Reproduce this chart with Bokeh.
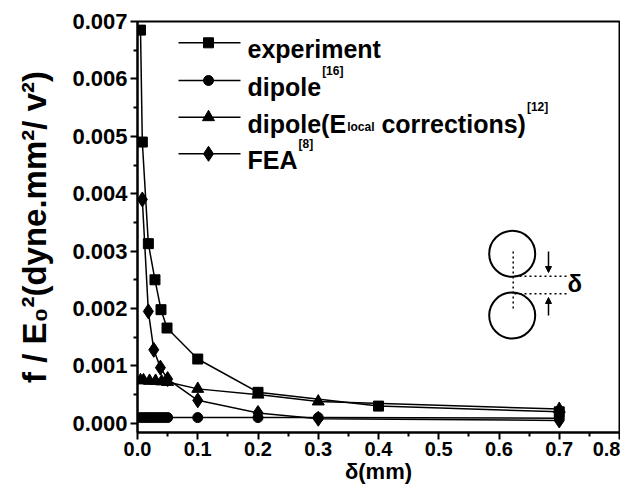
from bokeh.plotting import figure
from bokeh.embed import file_html
from bokeh.resources import INLINE
from bokeh.models import Range1d, PrintfTickFormatter, FixedTicker, Label, Arrow, NormalHead

# ---- data ----
x_exp = [0.005, 0.008, 0.018, 0.029, 0.039, 0.049, 0.1, 0.2, 0.4, 0.7]
y_exp = [0.00685, 0.0049, 0.00313, 0.0025, 0.00198, 0.00166, 0.00112, 0.00054, 0.0003, 0.0002]

x_dip = [0.005, 0.01, 0.015, 0.02, 0.025, 0.03, 0.035, 0.04, 0.045, 0.05, 0.1, 0.2, 0.3, 0.7]
y_dip = [0.0001, 0.0001, 0.0001, 0.0001, 0.0001, 0.0001, 0.0001, 0.0001, 0.0001, 0.0001, 0.0001, 0.0001, 0.0001, 0.00009]

x_loc = [0.005, 0.01, 0.02, 0.03, 0.04, 0.05, 0.1, 0.2, 0.3, 0.7]
y_loc = [0.00075, 0.00075, 0.00074, 0.00074, 0.00073, 0.00072, 0.0006, 0.0005, 0.00038, 0.00025]

x_fea = [0.008, 0.018, 0.027, 0.038, 0.05, 0.1, 0.2, 0.3, 0.7]
y_fea = [0.0039, 0.00195, 0.00128, 0.00097, 0.00077, 0.0004, 0.00018, 0.00008, 0.00005]

x_ticks = [0.0, 0.1, 0.2, 0.3, 0.4, 0.5, 0.6, 0.7, 0.8]
y_ticks = [0.000, 0.001, 0.002, 0.003, 0.004, 0.005, 0.006, 0.007]

X0, X1 = 0.0, 0.8
Y0, Y1 = -0.00016, 0.007

FONT = "Liberation Sans"
W, H = 620, 488
ML, MR, MT, MB = 137, 1, 21, 56
FW, FH = W - ML - MR, H - MT - MB

p = figure(width=W, height=H, output_backend="svg", toolbar_location=None,
           x_range=Range1d(X0, X1), y_range=Range1d(Y0, Y1),
           min_border_left=ML, min_border_right=MR, min_border_top=MT, min_border_bottom=MB,
           background_fill_color="white", border_fill_color="white")
p.grid.visible = False
p.outline_line_color = "black"
p.outline_line_width = 2

p.xaxis.ticker = FixedTicker(ticks=x_ticks, minor_ticks=[0.05 + 0.1 * i for i in range(8)])
p.yaxis.ticker = FixedTicker(ticks=y_ticks, minor_ticks=[0.0005 + 0.001 * i for i in range(7)])
p.xaxis.formatter = PrintfTickFormatter(format="%.1f")
p.yaxis.formatter = PrintfTickFormatter(format="%.3f")
for ax in (p.xaxis, p.yaxis):
    ax.axis_line_width = 2
    ax.major_tick_line_width = 2
    ax.minor_tick_line_width = 2
    ax.major_tick_out = 7
    ax.major_tick_in = 0
    ax.minor_tick_out = 4
    ax.minor_tick_in = 0
    ax.major_label_text_font = FONT
    ax.major_label_text_font_style = "bold"
    ax.major_label_text_color = "black"
    ax.axis_label_text_font = FONT
    ax.axis_label_text_font_style = "bold"
    ax.axis_label_text_color = "black"
p.xaxis.major_label_text_font_size = "20px"
p.yaxis.major_label_text_font_size = "22px"
p.xaxis.major_label_standoff = 2
p.yaxis.major_label_standoff = 3
p.xaxis.axis_label = "δ(mm)"
p.xaxis.axis_label_text_font_size = "22px"
p.xaxis.axis_label_standoff = 0
p.yaxis.axis_label = "f / E\u2080\u00b2(dyne.mm\u00b2/ v\u00b2)"
p.yaxis.axis_label_text_font_size = "33px"
p.yaxis.axis_label_standoff = 16

LW = 1.5
p.line(x_exp, y_exp, line_color="black", line_width=LW)
p.scatter(x_exp, y_exp, marker="square", size=10, color="black")
p.line(x_dip, y_dip, line_color="black", line_width=LW)
p.scatter(x_dip, y_dip, marker="circle", size=10, color="black")
p.line(x_loc, y_loc, line_color="black", line_width=LW)
p.scatter(x_loc, y_loc, marker="triangle", size=12, color="black")
p.line(x_fea, y_fea, line_color="black", line_width=LW)
p.scatter(x_fea, y_fea, marker="diamond", size=15, color="black")

# Arial/Liberation Sans Bold advance widths (1/1000 em) for text composition
AW = {'a': 556, 'b': 611, 'c': 556, 'd': 611, 'e': 556, 'f': 333, 'g': 611, 'h': 611, 'i': 278,
      'l': 278, 'm': 889, 'n': 611, 'o': 611, 'p': 611, 'r': 389, 's': 556, 't': 333, 'x': 556,
      'E': 667, 'F': 611, 'A': 722, '(': 333, ')': 333, '[': 333, ']': 333, ' ': 278}


def tw(s, size):
    return sum(AW.get(c, 556) for c in s) / 1000.0 * size


# helpers: pixel position -> data coordinates (for legend & inset drawing)
def px(xp):
    return X0 + (xp - ML) / FW * (X1 - X0)


def py(yp):
    return Y1 - (yp - MT) / FH * (Y1 - Y0)


def txt(xp, yp, s, size, baseline="alphabetic", align="left"):
    p.add_layout(Label(x=px(xp), y=py(yp), text=s, text_font=FONT, text_font_style="bold",
                       text_font_size=f"{size}px", text_color="black", text_baseline=baseline,
                       text_align=align))


# ---- legend ----
rows = [42.3, 80, 116.7, 153.3]
markers = [("square", 10), ("circle", 10), ("triangle", 12), ("diamond", 15)]
for (m, s), r in zip(markers, rows):
    p.line([px(178), px(240)], [py(r), py(r)], line_color="black", line_width=LW)
    p.scatter([px(208)], [py(r)], marker=m, size=s, color="black")

TS, SS = 25, 12
TX = 247
BL, SUP, SUB = 6.5, -10, 10
txt(TX, rows[0] + BL, "experiment", TS)

txt(TX, rows[1] + BL, "dipole", TS)
txt(TX + tw("dipole", TS) + 1, rows[1] + SUP, "[16]", SS)

xx = TX
txt(xx, rows[2] + BL, "dipole(E", TS)
xx += tw("dipole(E", TS) + 1
txt(xx, rows[2] + SUB, "local", SS)
xx += tw("local", SS) + tw(" ", TS)
txt(xx, rows[2] + BL, "corrections)", TS)
xx += tw("corrections)", TS) + 1
txt(xx, rows[2] + SUP, "[12]", SS)

txt(TX, rows[3] + BL, "FEA", TS)
txt(TX + tw("FEA", TS) + 1, rows[3] + SUP, "[8]", SS)

# ---- inset schematic ----
p.scatter([px(511.7), px(511.7)], [py(253.3), py(315)], marker="circle", size=46,
          fill_color=None, line_color="black", line_width=2)
p.line([px(512.7), px(512.7)], [py(251), py(311)], line_color="black", line_width=1.5, line_dash="2 3")
p.line([px(514), px(566)], [py(275.7), py(275.7)], line_color="black", line_width=1.5, line_dash="2 3")
p.line([px(514), px(566)], [py(293.3), py(293.3)], line_color="black", line_width=1.5, line_dash="2 3")
p.add_layout(Arrow(x_start=px(548), y_start=py(251), x_end=px(548), y_end=py(272),
                   line_width=1.5, end=NormalHead(size=6, fill_color="black")))
p.add_layout(Arrow(x_start=px(548), y_start=py(315), x_end=px(548), y_end=py(297),
                   line_width=1.5, end=NormalHead(size=6, fill_color="black")))
txt(567, 283, "δ", 24, baseline="middle")

open("out.html", "w").write(file_html(p, INLINE))
